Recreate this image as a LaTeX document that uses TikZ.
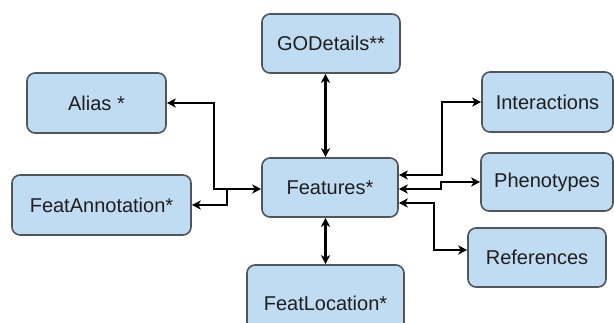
\documentclass[tikz,border=0pt]{standalone}
\usepackage{fontspec}
\setmainfont{Liberation Sans}
\usepackage{xcolor}
\usepackage{tikz}
\usetikzlibrary{arrows.meta,positioning,calc}
\definecolor{tablefill}{RGB}{192,220,242}
\definecolor{tableline}{RGB}{80,85,90}
\definecolor{tabletext}{RGB}{30,30,30}

\begin{document}
\begin{tikzpicture}[x=1pt,y=-1pt,
		table/.style={draw=tableline,line width=1.6pt,fill=tablefill,rounded corners=8pt,
			text=tabletext,font=\fontsize{20}{22}\selectfont,inner sep=0pt},
		link/.style={line width=2.3pt,{Stealth[length=9pt,width=9pt,inset=2.5pt]}-{Stealth[length=9pt,width=9pt,inset=2.5pt]}},
		oneway/.style={line width=2.3pt,-{Stealth[length=9pt,width=9pt,inset=2.5pt]}}]
			\useasboundingbox (0,0) rectangle (614,323);
			\clip (0,0) rectangle (614,323);
			
			\node[table,minimum width=138pt,minimum height=59pt] (godetails) at (331,43.5) {GODetails**};
			\node[table,minimum width=139pt,minimum height=60pt] (alias) at (96.5,103) {Alias *};
			\node[table,minimum width=136pt,minimum height=59pt] (features) at (330,187.5) {Features*};
			\node[table,minimum width=179pt,minimum height=60pt] (featannot) at (101.5,205) {FeatAnnotation*};
			\node[table,minimum width=157pt,minimum height=76pt] (featloc) at (325.5,303) {FeatLocation*};
			\node[table,minimum width=131pt,minimum height=60pt] (interact) at (547.5,102) {Interactions};
			\node[table,minimum width=132pt,minimum height=58pt] (pheno) at (547,182) {Phenotypes};
			\node[table,minimum width=138pt,minimum height=59pt] (refs) at (537,257.5) {References};
			
			\coordinate (ljoin) at (214,189);
			\coordinate (ajoin) at (227,189);
			\coordinate (iturn) at (442,102);
			\coordinate (pturn) at (441,189);
			\coordinate (rturn) at (434,250);
			
			\draw[link] (godetails.south -| featloc.north) -- (features.north -| featloc.north);
			\draw[link] (features.south -| featloc.north) -- (featloc.north);
			
			\draw[link] (alias.east) -| (ljoin) -- (ljoin -| features.west);
			\draw[oneway] (ajoin) |- (featannot.east);
			
			\draw[link] ([yshift=12.5pt]features.east) -| (iturn) -- (interact.west);
			\draw[link] (features.east |- pturn) -- (pturn) |- (pheno.west);
			\draw[link] ([yshift=-15.5pt]features.east) -| (rturn) -- (rturn -| refs.west);
			
		\end{tikzpicture}
\end{document}
